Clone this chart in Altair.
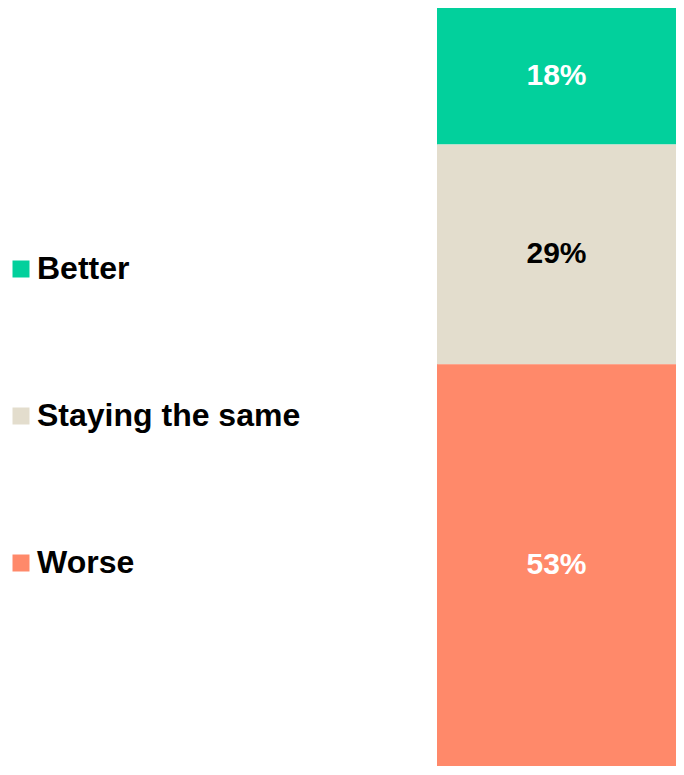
import altair as alt
import pandas as pd

categories = ["Better", "Staying the same", "Worse"]
values = [18, 29, 53]
labels = ["18%", "29%", "53%"]
stack_order = [2, 1, 0]
colors = ["#02D09C", "#E3DDCD", "#FF896A"]

df = pd.DataFrame({
    "category": categories,
    "value": values,
    "label": labels,
    "ord": stack_order,
    "grp": ["all"] * len(categories),
})

FONT = "Liberation Sans"

base = alt.Chart(df).transform_stack(
    stack="value", groupby=["grp"], as_=["y0", "y1"],
    sort=[alt.SortField("ord", order="ascending")]
).transform_calculate(mid="(datum.y0 + datum.y1) / 2")

x_enc = alt.X("grp:N", axis=None, scale=alt.Scale(paddingInner=0, paddingOuter=0))
y_scale = alt.Scale(domain=[0, 100], nice=False, zero=True)

bars = base.mark_bar(strokeWidth=0).encode(
    x=x_enc,
    y=alt.Y("y0:Q", axis=None, scale=y_scale),
    y2="y1:Q",
    color=alt.Color(
        "category:N",
        scale=alt.Scale(domain=categories, range=colors),
        sort=categories,
        legend=alt.Legend(
            title=None,
            orient="none",
            legendX=-432,
            legendY=245,
            direction="vertical",
            symbolType="square",
            symbolSize=289,
            symbolStrokeWidth=0,
            labelFont=FONT,
            labelFontSize=32,
            labelFontWeight="bold",
            labelColor="#000000",
            labelOffset=0,
            labelLimit=400,
            rowPadding=115,
        ),
    ),
)

text = base.mark_text(font=FONT, fontSize=30, fontWeight="bold", baseline="middle", align="center").encode(
    x=x_enc,
    y=alt.Y("mid:Q", scale=y_scale),
    text="label:N",
    color=alt.condition(alt.datum.category == "Staying the same", alt.value("#000000"), alt.value("#FFFFFF")),
)

chart = alt.layer(bars, text).properties(
    width=239,
    height=758,
    padding={"left": 429, "top": 0, "right": 0, "bottom": 0},
    autosize=alt.AutoSizeParams(type="none"),
).configure_view(stroke=None).configure(background="white")

chart.save("out.html", embed_options={"renderer": "svg", "actions": False})
